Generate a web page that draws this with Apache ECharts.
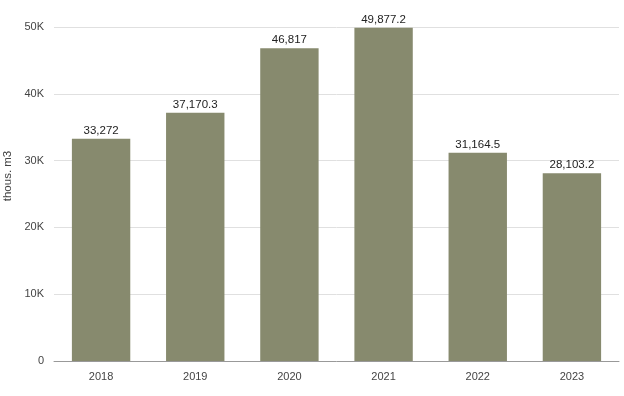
<!DOCTYPE html>
<html><head><meta charset="utf-8">
<script src="https://cdn.jsdelivr.net/npm/echarts@6/dist/echarts.min.js"></script>
<style>html,body{margin:0;padding:0;background:#fff}#c{width:624px;height:396px}</style>
</head><body><div id="c"></div>
<script>
const categories = ['2018','2019','2020','2021','2022','2023'];
const values = [33272, 37170.3, 46817, 49877.2, 31164.5, 28103.2];
const valueLabels = ['33,272','37,170.3','46,817','49,877.2','31,164.5','28,103.2'];
const yTicks = ['0','10K','20K','30K','40K','50K'];

const chart = echarts.init(document.getElementById('c'), null, {renderer:'canvas'});
chart.setOption({
  animation:false,
  grid:{left:54,right:5,top:27,bottom:35,containLabel:false,outerBoundsMode:'none'},
  xAxis:{type:'category',data:categories,
    axisLine:{lineStyle:{color:'#999',width:1}},axisTick:{show:false},
    axisLabel:{color:'#444',fontSize:11,fontFamily:'Liberation Sans, Arial',margin:10}},
  yAxis:{type:'value',min:0,max:50000,interval:10000,
    name:'thous. m3',nameLocation:'middle',nameGap:34,nameRotate:90,
    nameTextStyle:{color:'#444',fontSize:11.5,fontFamily:'Liberation Sans, Arial',padding:[0,0,0,36]},
    axisLabel:{color:'#444',fontSize:11,fontFamily:'Liberation Sans, Arial',margin:10,
      formatter:(v)=>yTicks[Math.round(v/10000)]},
    splitLine:{lineStyle:{color:'#e0e0e0'}},axisLine:{show:false},axisTick:{show:false}},
  series:[{type:'bar',data:values,barWidth:'62%',itemStyle:{color:'#878a6e'},
    label:{show:true,position:'top',distance:2,color:'#222',fontSize:11.5,fontFamily:'Liberation Sans, Arial',
      formatter:(p)=>valueLabels[p.dataIndex]}}]
});
</script></body></html>
